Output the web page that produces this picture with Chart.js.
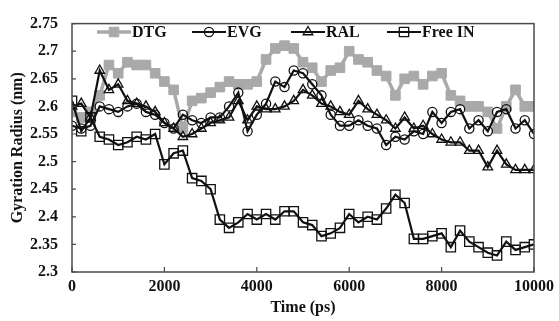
<!DOCTYPE html>
<html lang="en">
<head>
<meta charset="UTF-8">
<title>Gyration Radius</title>
<script src="https://cdn.jsdelivr.net/npm/chart.js"></script>
<style>
  html, body { margin: 0; padding: 0; background: #fff; }
  #wrap { width: 559px; height: 321px; }
</style>
</head>
<body>
<div id="wrap"><canvas id="rgChart"></canvas></div>
<script>
// time (ps), one sample every 200 ps
const times = [0, 200, 400, 600, 800, 1000, 1200, 1400, 1600, 1800,
  2000, 2200, 2400, 2600, 2800, 3000, 3200, 3400, 3600, 3800,
  4000, 4200, 4400, 4600, 4800, 5000, 5200, 5400, 5600, 5800,
  6000, 6200, 6400, 6600, 6800, 7000, 7200, 7400, 7600, 7800,
  8000, 8200, 8400, 8600, 8800, 9000, 9200, 9400, 9600, 9800, 10000];

const dtg = [2.59, 2.58, 2.59, 2.62, 2.675, 2.66, 2.68, 2.675, 2.675, 2.66,
  2.645, 2.63, 2.56, 2.61, 2.615, 2.625, 2.635, 2.645, 2.64, 2.64,
  2.645, 2.685, 2.705, 2.71, 2.705, 2.68, 2.67, 2.645, 2.665, 2.67,
  2.70, 2.685, 2.68, 2.665, 2.655, 2.62, 2.65, 2.655, 2.64, 2.655,
  2.66, 2.62, 2.61, 2.60, 2.60, 2.59, 2.56, 2.60, 2.63, 2.60, 2.60];

const evg = [2.565, 2.56, 2.565, 2.60, 2.595, 2.59, 2.60, 2.605, 2.59, 2.585,
  2.57, 2.56, 2.585, 2.575, 2.57, 2.58, 2.58, 2.60, 2.625, 2.555,
  2.585, 2.605, 2.645, 2.635, 2.665, 2.66, 2.64, 2.62, 2.585, 2.565,
  2.565, 2.575, 2.565, 2.56, 2.53, 2.545, 2.54, 2.555, 2.55, 2.59,
  2.57, 2.59, 2.595, 2.56, 2.575, 2.555, 2.59, 2.595, 2.56, 2.575, 2.55];

const ral = [2.60, 2.605, 2.58, 2.665, 2.63, 2.64, 2.61, 2.605, 2.60, 2.59,
  2.57, 2.56, 2.545, 2.55, 2.56, 2.57, 2.575, 2.58, 2.61, 2.575,
  2.60, 2.595, 2.595, 2.60, 2.61, 2.63, 2.62, 2.605, 2.60, 2.59,
  2.585, 2.61, 2.595, 2.585, 2.575, 2.56, 2.58, 2.56, 2.565, 2.55,
  2.54, 2.535, 2.535, 2.52, 2.52, 2.49, 2.52, 2.495, 2.485, 2.485, 2.485];

const freeIn = [2.61, 2.555, 2.58, 2.545, 2.54, 2.53, 2.535, 2.545, 2.54, 2.55,
  2.495, 2.515, 2.52, 2.47, 2.465, 2.45, 2.395, 2.38, 2.39, 2.405,
  2.395, 2.405, 2.395, 2.41, 2.41, 2.39, 2.385, 2.365, 2.37, 2.38,
  2.405, 2.39, 2.40, 2.395, 2.415, 2.44, 2.425, 2.36, 2.36, 2.365,
  2.37, 2.345, 2.375, 2.355, 2.345, 2.335, 2.33, 2.355, 2.34, 2.345, 2.35];

const yTicks = [2.3, 2.35, 2.4, 2.45, 2.5, 2.55, 2.6, 2.65, 2.7, 2.75];
const xTicks = [0, 2000, 4000, 6000, 8000, 10000];

const FONT = "'Liberation Serif', 'Times New Roman', serif";
const pts = arr => arr.map((v, i) => ({ x: times[i], y: v }));

const series = [
  { label: 'DTG', data: dtg, color: '#a9a9a9', fill: '#a9a9a9', style: 'rect', r: 6.8, lw: 3.5, pbw: 1, order: 4 },
  { label: 'EVG', data: evg, color: '#111', fill: 'rgba(0,0,0,0)', style: 'circle', r: 4.6, lw: 2.2, pbw: 1.3, order: 1 },
  { label: 'RAL', data: ral, color: '#111', fill: 'rgba(0,0,0,0)', style: 'triangle', r: 5.5, lw: 2.2, pbw: 1.3, order: 2 },
  { label: 'Free IN', data: freeIn, color: '#111', fill: 'rgba(0,0,0,0)', style: 'rect', r: 6.6, lw: 2.2, pbw: 1.3, order: 3 }
];

function marker(ctx, s, x, y) {
  ctx.save();
  ctx.lineWidth = s.pbw;
  ctx.strokeStyle = s.color;
  ctx.fillStyle = s.fill;
  ctx.beginPath();
  if (s.style === 'circle') {
    ctx.arc(x, y, s.r, 0, Math.PI * 2);
  } else if (s.style === 'triangle') {
    ctx.moveTo(x, y - s.r);
    ctx.lineTo(x + s.r * 0.87, y + s.r * 0.5);
    ctx.lineTo(x - s.r * 0.87, y + s.r * 0.5);
    ctx.closePath();
  } else {
    const h = s.r * Math.SQRT1_2;
    ctx.rect(x - h, y - h, 2 * h, 2 * h);
  }
  ctx.fill();
  ctx.stroke();
  ctx.restore();
}

// frame, inward ticks and the legend drawn inside the plot
const framePlugin = {
  id: 'frame',
  afterDatasetsDraw(chart) {
    const { ctx, chartArea: a, scales } = chart;
    ctx.save();
    ctx.strokeStyle = '#4a4a4a';
    ctx.lineWidth = 1.5;
    ctx.strokeRect(a.left, a.top, a.right - a.left, a.bottom - a.top);
    ctx.lineWidth = 1.2;
    ctx.beginPath();
    yTicks.forEach(v => {
      const y = scales.y.getPixelForValue(v);
      ctx.moveTo(a.left, y); ctx.lineTo(a.left + 4, y);
    });
    xTicks.forEach(v => {
      const x = scales.x.getPixelForValue(v);
      ctx.moveTo(x, a.bottom); ctx.lineTo(x, a.bottom - 5);
    });
    ctx.stroke();

    // legend
    const legendPos = [97, 192, 291, 387];
    const ly = 32;
    ctx.font = 'bold 16px ' + FONT;
    ctx.textBaseline = 'middle';
    series.forEach((s, i) => {
      const x0 = legendPos[i];
      ctx.strokeStyle = s.color;
      ctx.lineWidth = s.lw;
      ctx.beginPath();
      ctx.moveTo(x0, ly); ctx.lineTo(x0 + 34, ly);
      ctx.stroke();
      marker(ctx, s, x0 + 17, ly);
      ctx.fillStyle = '#111';
      ctx.fillText(s.label, x0 + 35, ly + 1);
    });
    ctx.restore();
  }
};

new Chart(document.getElementById('rgChart'), {
  type: 'line',
  data: {
    datasets: series.map(s => ({
      label: s.label,
      data: pts(s.data),
      borderColor: s.color,
      borderWidth: s.lw,
      backgroundColor: s.fill,
      pointStyle: s.style,
      pointRadius: s.r,
      pointBorderWidth: s.pbw,
      pointBorderColor: s.color,
      pointBackgroundColor: s.fill,
      tension: 0,
      fill: false,
      order: s.order
    }))
  },
  options: {
    responsive: true,
    maintainAspectRatio: false,
    animation: false,
    layout: { padding: { top: 20, right: 21, left: 0, bottom: 0 } },
    plugins: { legend: { display: false }, tooltip: { enabled: false } },
    scales: {
      x: {
        type: 'linear',
        min: 0, max: 10000,
        afterBuildTicks: sc => { sc.ticks = xTicks.map(v => ({ value: v })); },
        afterFit: sc => { sc.height = 49; },
        grid: { display: false, drawTicks: false },
        border: { display: false },
        ticks: { color: '#111', font: { family: FONT, size: 16, weight: 'bold' }, padding: 5, maxRotation: 0,
          callback: v => String(v) },
        title: { display: true, text: 'Time (ps)', color: '#111', font: { family: FONT, size: 16, weight: 'bold' },
          padding: { top: 0, bottom: 4 } }
      },
      y: {
        min: 2.3, max: 2.75,
        afterBuildTicks: sc => { sc.ticks = yTicks.map(v => ({ value: v })); },
        afterFit: sc => { sc.width = 72; },
        grid: { display: false, drawTicks: false },
        border: { display: false },
        ticks: { color: '#111', font: { family: FONT, size: 16, weight: 'bold' }, padding: 14,
          callback: v => String(+v.toFixed(2)) },
        title: { display: true, text: 'Gyration Radius (nm)', color: '#111', font: { family: FONT, size: 16, weight: 'bold' },
          padding: { top: 8, bottom: 0 } }
      }
    }
  },
  plugins: [framePlugin]
});
</script>
</body>
</html>
